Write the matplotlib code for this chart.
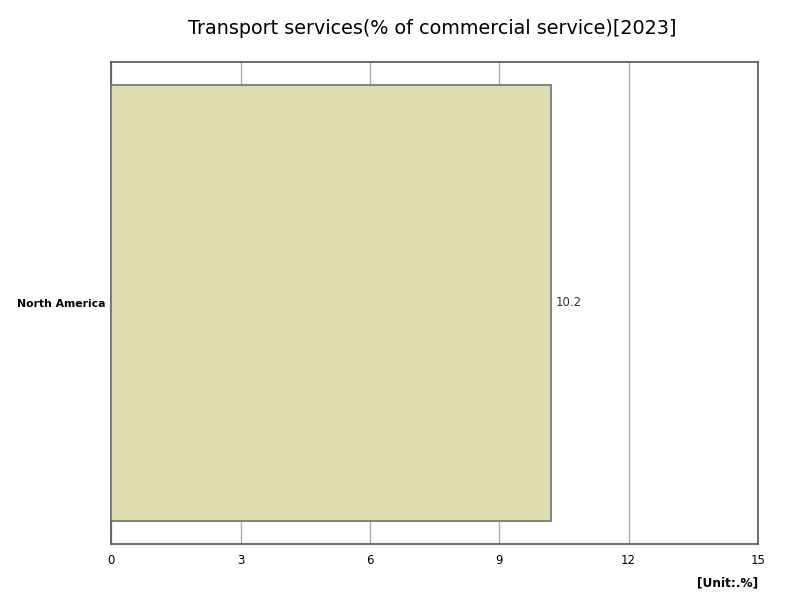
import matplotlib
matplotlib.use("Agg")
from matplotlib import pyplot as plt

categories = ["North America"]
values = [10.2]
xticks = [0, 3, 6, 9, 12, 15]

fig = plt.figure(figsize=(8, 6), dpi=100)
ax = fig.add_axes([0.139, 0.0933, 0.8085, 0.8034])

ax.barh(categories, values, height=0.9025, color="#DEDDAF", edgecolor="#707070",
        linewidth=1.2, zorder=3)
for cat, v in zip(categories, values):
    ax.text(v + 0.1, cat, f"{v}", va="center", ha="left", fontsize=8.5, color="#333333")

ax.set_xlim(0, 15)
ax.set_ylim(-0.5, 0.5)
ax.set_xticks(xticks)
ax.set_xticklabels([str(t) for t in xticks], fontsize=8.5)
ax.tick_params(axis="x", length=0, pad=7)
ax.tick_params(axis="y", length=0, pad=4, labelsize=7.8)
for lab in ax.get_yticklabels():
    lab.set_fontweight("bold")
ax.grid(axis="x", color="#AAAAAA", linewidth=1, zorder=0)
for s in ax.spines.values():
    s.set_color("#555555")
    s.set_linewidth(1.2)

fig.text(0.54, 0.952, "Transport services(% of commercial service)[2023]",
         ha="center", va="center", fontsize=13.8)
fig.text(0.9475, 0.028, "[Unit:.%]", ha="right", va="center", fontsize=8.7,
         fontweight="bold")

fig.savefig("out.png")
